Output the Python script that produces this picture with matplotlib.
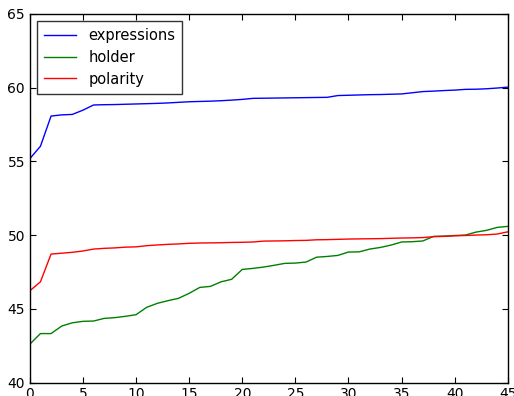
import matplotlib
matplotlib.use("Agg")
import matplotlib.pyplot as plt
import numpy as np

x = list(range(46))
expressions = [55.18, 56.02, 58.07, 58.15, 58.18, 58.47, 58.82, 58.84, 58.85, 58.87,
               58.89, 58.91, 58.93, 58.96, 59.0, 59.04, 59.06, 59.08, 59.11, 59.15,
               59.2, 59.27, 59.28, 59.29, 59.3, 59.31, 59.32, 59.33, 59.34, 59.46,
               59.48, 59.5, 59.52, 59.53, 59.55, 59.57, 59.65, 59.73, 59.76, 59.8,
               59.83, 59.88, 59.89, 59.92, 59.97, 60.03]
holder = [42.6, 43.32, 43.32, 43.83, 44.05, 44.15, 44.17, 44.35, 44.4, 44.49,
          44.6, 45.1, 45.37, 45.55, 45.71, 46.05, 46.45, 46.52, 46.83, 47.0,
          47.67, 47.74, 47.83, 47.95, 48.08, 48.1, 48.17, 48.5, 48.55, 48.62,
          48.85, 48.86, 49.05, 49.16, 49.32, 49.53, 49.55, 49.6, 49.91, 49.93,
          49.97, 50.0, 50.2, 50.32, 50.52, 50.59]
polarity = [46.22, 46.83, 48.71, 48.77, 48.83, 48.92, 49.05, 49.1, 49.13, 49.18,
            49.2, 49.28, 49.33, 49.37, 49.4, 49.44, 49.46, 49.47, 49.48, 49.5,
            49.51, 49.53, 49.59, 49.6, 49.61, 49.63, 49.64, 49.68, 49.69, 49.71,
            49.73, 49.74, 49.75, 49.76, 49.78, 49.8, 49.81, 49.83, 49.89, 49.91,
            49.95, 49.97, 50.0, 50.02, 50.07, 50.22]

fig = plt.figure(figsize=(5.14, 3.96), dpi=100, facecolor="white")
ax = fig.add_axes([0.058, 0.034, 0.930, 0.931])
ax.plot(x, expressions, color="blue", lw=1, label="expressions")
ax.plot(x, holder, color="green", lw=1, label="holder")
ax.plot(x, polarity, color="red", lw=1, label="polarity")
ax.set_xlim(0, 45)
ax.set_ylim(40, 65)
ax.set_xticks(range(0, 46, 5))
ax.set_yticks(range(40, 66, 5))
ax.tick_params(direction="in", top=True, right=True, length=4, labelsize=10)
for s in ax.spines.values():
    s.set_linewidth(1)
leg = ax.legend(loc="upper left", fontsize=10.5, frameon=True, fancybox=False,
                handlelength=2.2, borderpad=0.5, labelspacing=0.45)
leg.get_frame().set_edgecolor("black")
leg.get_frame().set_linewidth(1)
fig.savefig("out.png", dpi=100, facecolor="white")
